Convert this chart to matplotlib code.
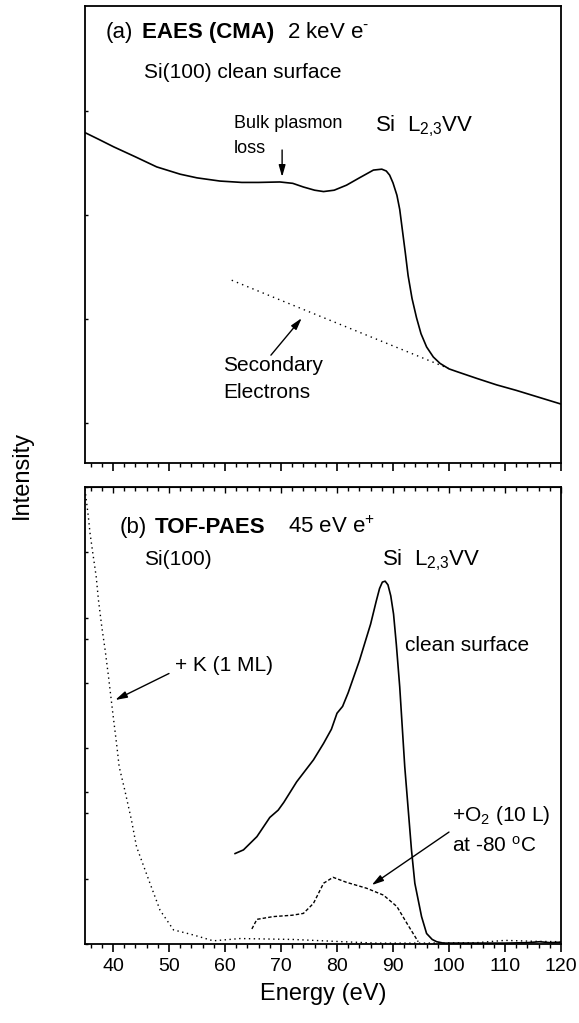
import numpy as np
import matplotlib.pyplot as plt
from matplotlib.ticker import MultipleLocator

plt.rcParams['font.family'] = ['Liberation Sans', 'DejaVu Sans']
plt.rcParams['mathtext.fontset'] = 'custom'
plt.rcParams['mathtext.rm'] = 'Liberation Sans'
plt.rcParams['mathtext.it'] = 'Liberation Sans:italic'
plt.rcParams['mathtext.bf'] = 'Liberation Sans:bold'

# (a) EAES spectrum, intensity in % of panel height
eaes_energy = [35.0, 37.5, 40.1, 44.0, 47.8, 52.0, 55.0, 59.1, 63.0, 66.0, 69.8, 72.1,
               74.0, 76.0, 77.6, 79.5, 81.7, 84.0, 86.5, 88.0, 88.8, 89.4, 90.0, 90.7,
               91.2, 91.6, 92.2, 92.7, 93.4, 94.2, 95.0, 96.0, 97.2, 98.4, 100.0, 101.4,
               105.0, 108.5, 112.0, 116.0, 120.0]
eaes_int = [72.3, 70.8, 69.2, 67.0, 64.8, 63.2, 62.4, 61.7, 61.4, 61.4, 61.5, 61.2,
            60.4, 59.7, 59.4, 59.7, 60.8, 62.4, 64.1, 64.3, 63.9, 63.0, 61.3, 58.6,
            55.5, 51.7, 46.0, 41.0, 36.0, 31.8, 28.3, 25.4, 23.2, 21.8, 20.6, 20.0,
            18.5, 17.1, 15.9, 14.4, 12.9]
secondary_energy = [61.2, 74.0, 99.9]
secondary_int = [40.0, 33.6, 20.7]

# (b) TOF-PAES spectra
clean_energy = [61.8, 63.3, 65.7, 68.0, 69.5, 70.5, 72.8, 75.8, 77.6, 79.0, 80.0, 81.0,
                82.0, 84.0, 86.0, 87.0, 87.6, 88.1, 88.6, 89.1, 89.6, 90.1, 90.6, 91.2,
                92.1, 93.3, 93.9, 95.1, 96.0, 97.0, 97.8, 99.0, 105.0, 110.0, 114.0,
                116.2, 118.0, 120.0]
clean_int = [19.8, 20.6, 23.5, 27.7, 29.3, 31.0, 35.5, 40.3, 43.9, 47.0, 50.5, 52.0,
             55.0, 62.0, 70.0, 75.0, 77.8, 79.2, 79.4, 78.6, 76.2, 72.2, 65.5, 56.3,
             38.8, 20.6, 13.3, 6.0, 2.3, 1.0, 0.5, 0.2, 0.2, 0.2, 0.3, 0.5, 0.3, 0.4]
o2_energy = [64.8, 65.7, 68.6, 72.0, 74.0, 75.8, 77.6, 79.3, 81.7, 85.3, 88.3, 90.7,
             92.5, 94.5]
o2_int = [3.3, 5.4, 6.0, 6.3, 6.7, 8.9, 13.3, 14.6, 13.5, 12.2, 10.7, 8.2, 4.5, 0.5]
k_energy = [35.0, 35.6, 35.9, 36.4, 37.0, 37.4, 38.0, 38.6, 39.2, 39.9, 40.7, 41.1,
            42.1, 43.3, 44.2, 46.6, 48.4, 50.8, 54.3, 57.9, 62.7, 72.2, 81.1, 87.1,
            95.0, 105.0, 110.0, 115.0, 120.0]
k_int = [99.5, 93.5, 89.9, 85.5, 80.4, 75.3, 69.4, 64.3, 58.5, 51.2, 43.2, 38.8,
         33.7, 27.1, 21.3, 13.3, 7.4, 3.1, 2.0, 0.7, 1.2, 1.0, 0.5, 0.2,
         0.2, 0.3, 0.8, 0.6, 0.5]

fig = plt.figure(figsize=(5.79, 10.23), dpi=100)
ax1 = fig.add_axes([0.1468, 0.5474, 0.8221, 0.4467])
ax2 = fig.add_axes([0.1468, 0.0772, 0.8221, 0.4467])

for ax in (ax1, ax2):
    ax.set_xlim(35, 120)
    ax.set_ylim(0, 100)
    ax.xaxis.set_major_locator(MultipleLocator(10))
    ax.xaxis.set_minor_locator(MultipleLocator(2))
    for s in ax.spines.values():
        s.set_linewidth(1.3)
    ax.tick_params(axis='x', which='major', direction='out', length=6, width=1.2)
    ax.tick_params(axis='x', which='minor', direction='out', length=3, width=1.0)
    ax.tick_params(axis='y', which='both', direction='in', length=2, width=1.0,
                   labelleft=False)

ax1.tick_params(axis='x', labelbottom=False)
ax1.set_yticks([8.75, 31.5, 54.3, 77.0])
ax2.tick_params(axis='x', which='major', labelsize=14, pad=4)
ax2.set_yticks(list(np.arange(0, 101, 100 / 7)) + [33.3, 66.7])
sec = ax2.secondary_xaxis('top')
sec.xaxis.set_major_locator(MultipleLocator(10))
sec.xaxis.set_minor_locator(MultipleLocator(2))
sec.tick_params(which='major', direction='in', length=4, width=1.0, labeltop=False)
sec.tick_params(which='minor', direction='in', length=3, width=1.0)

arrow = dict(arrowstyle='-|>,head_length=0.7,head_width=0.2',
             color='k', lw=1.0, shrinkA=0, shrinkB=0)

# panel (a)
ax1.plot(eaes_energy, eaes_int, color='k', lw=1.2)
ax1.plot(secondary_energy, secondary_int, color='k', lw=1.0, linestyle=(0, (1, 3)))

ax1.text(38.6, 94.1, '(a)', fontsize=16, va='center')
ax1.text(45.1, 94.1, 'EAES (CMA)', fontsize=16, va='center', fontweight='bold')
ax1.text(71.0, 94.1, r'2 keV e$^{\text{-}}$', fontsize=16, va='center')
ax1.text(45.6, 85.4, 'Si(100) clean surface', fontsize=15, va='center')
ax1.text(61.6, 74.2, 'Bulk plasmon', fontsize=13, va='center')
ax1.text(61.6, 68.9, 'loss', fontsize=13, va='center')
ax1.annotate('', xy=(70.2, 62.6), xytext=(70.2, 68.5), arrowprops=arrow)
ax1.text(86.8, 73.6, r'Si  L$_{2{,}3}$VV', fontsize=16, va='center')
ax1.annotate('', xy=(73.7, 31.7), xytext=(68.2, 23.6), arrowprops=arrow)
ax1.text(59.6, 21.4, 'Secondary', fontsize=15, va='center')
ax1.text(59.6, 15.4, 'Electrons', fontsize=15, va='center')

# panel (b)
ax2.plot(clean_energy, clean_int, color='k', lw=1.2)
ax2.plot(o2_energy, o2_int, color='k', lw=1.0, linestyle=(0, (2.5, 1.5)))
ax2.plot(k_energy, k_int, color='k', lw=1.0, linestyle=(0, (1, 2.5)))

ax2.text(41.1, 91.2, '(b)', fontsize=16, va='center')
ax2.text(47.5, 91.2, 'TOF-PAES', fontsize=16, va='center', fontweight='bold')
ax2.text(71.2, 91.2, r'45 eV e$^{+}$', fontsize=16, va='center')
ax2.text(45.6, 84.2, 'Si(100)', fontsize=15, va='center')
ax2.text(88.0, 84.0, r'Si  L$_{2{,}3}$VV', fontsize=16, va='center')
ax2.text(92.2, 65.4, 'clean surface', fontsize=15, va='center')
ax2.text(51.0, 61.0, '+ K (1 ML)', fontsize=15, va='center')
ax2.annotate('', xy=(40.4, 53.4), xytext=(50.0, 59.2), arrowprops=arrow)
ax2.text(100.5, 28.1, r'+O$_2$ (10 L)', fontsize=15, va='center')
ax2.text(100.5, 21.5, r'at -80 $^{\mathrm{o}}$C', fontsize=15, va='center')
ax2.annotate('', xy=(86.2, 12.9), xytext=(100.0, 24.5), arrowprops=arrow)
ax2.set_xlabel('Energy (eV)', fontsize=17, labelpad=6)

fig.text(22 / 579, 1 - 475 / 1023, 'Intensity', rotation=90, fontsize=17,
         ha='center', va='center')

fig.savefig('out.png', dpi=100)
